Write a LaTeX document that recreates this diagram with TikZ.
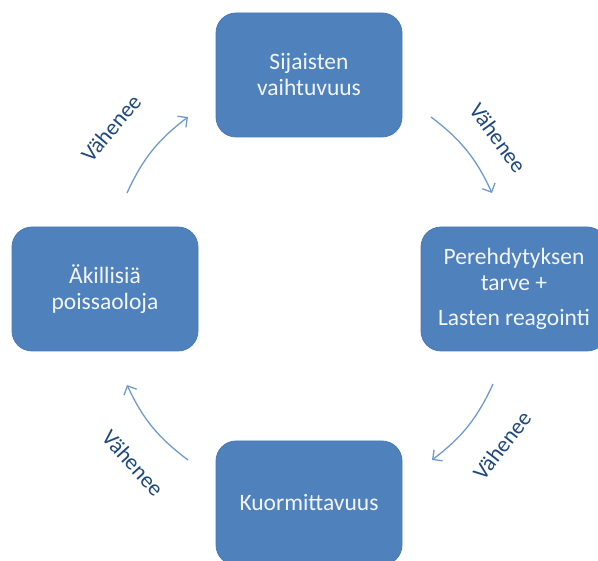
\documentclass[tikz,border=0pt]{standalone}
\usepackage{fontspec}
\setmainfont{Carlito}
\usetikzlibrary{arrows.meta}
\definecolor{boxblue}{HTML}{4F81BD}
\definecolor{boxedge}{HTML}{4A7AB5}
\definecolor{arrowblue}{HTML}{6E9AD0}
\definecolor{labelblue}{HTML}{1F497D}
\definecolor{boxtext}{HTML}{F2F6FC}
\begin{document}
\begin{tikzpicture}[x=1pt,y=1pt,
  box/.style={draw=boxedge, fill=boxblue, rounded corners=20pt, minimum width=186pt, minimum height=124pt, text=boxtext, font=\fontsize{23.5}{26}\selectfont, align=center, line width=0.8pt, inner sep=0pt},
  cyc/.style={draw=arrowblue, line width=1.3pt, -{Straight Barb[length=7pt,width=14pt]}},
  lbl/.style={text=labelblue, font=\fontsize{22.5}{25}\selectfont, inner sep=0pt}]
\clip (0,0) rectangle (598,-561);
\node[box] (top) at (309,-75) {Sijaisten\\vaihtuvuus};
\node[box] (left) at (105,-289) {Äkillisiä\\poissaoloja};
\node[box] (right) at (514,-289) {Perehdytyksen\\tarve +\\[9pt]Lasten reagointi};
\node[box] (bottom) at (309,-503) {Kuormittavuus};
\coordinate (a1s) at (127,-193);
\coordinate (a1e) at (188,-117);
\coordinate (a2s) at (431,-117);
\coordinate (a2e) at (492,-193);
\coordinate (a3s) at (493,-384);
\coordinate (a3e) at (432,-460);
\coordinate (a4s) at (188,-460);
\coordinate (a4e) at (127,-385);
\draw[cyc] (a1s) to[bend left=14] (a1e);
\draw[cyc] (a2s) to[bend left=14] (a2e);
\draw[cyc] (a3s) to[bend left=14] (a3e);
\draw[cyc] (a4s) to[bend left=14] (a4e);
\node[lbl, rotate=50] (l1) at (111,-128) {Vähenee};
\node[lbl, rotate=-54] (l2) at (498,-138) {Vähenee};
\node[lbl, rotate=52] (l3) at (502,-445) {Vähenee};
\node[lbl, rotate=-48] (l4) at (133,-463) {Vähenee};
\end{tikzpicture}
\end{document}
